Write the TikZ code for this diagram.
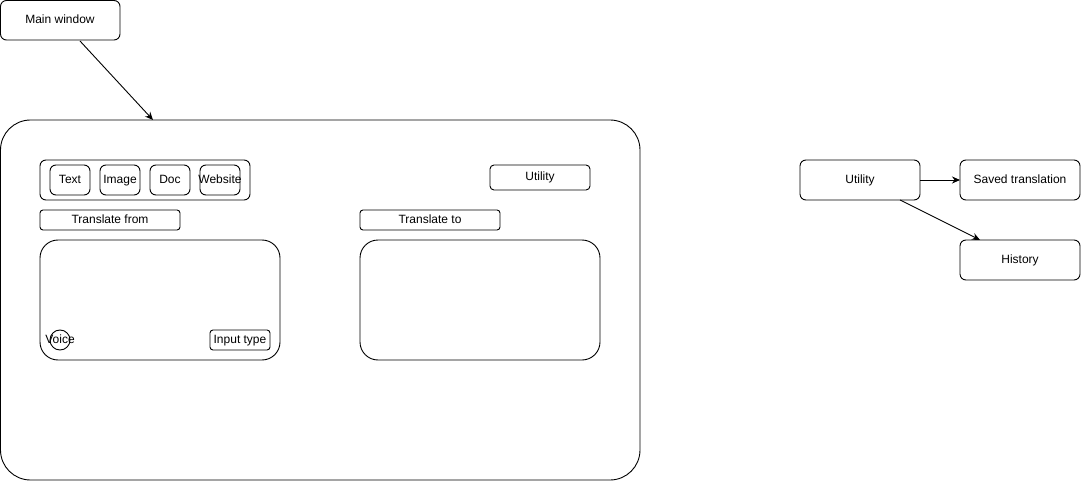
\documentclass[tikz,border=0pt]{standalone}
\usepackage{fontspec}
\setmainfont{Liberation Sans}
\usetikzlibrary{arrows.meta}
\begin{document}
\begin{tikzpicture}[x=1pt,y=-1pt,
  box/.style={draw, line width=0.9pt, rounded corners=#1},
  box/.default=6pt,
  lbl/.style={font=\fontsize{12}{14}\selectfont, inner sep=0pt, text height=8.6pt, text depth=2.4pt},
  arr/.style={line width=0.9pt, -{Stealth[length=8pt,width=7pt]}}]
\useasboundingbox (0,0) rectangle (1081,481);
% Main window label
\draw[box] (0.5,0.5) rectangle (120,40);
\node[lbl] (mw) at (60,20) {Main window};
\coordinate (mwb) at (80,41);
% big window
\draw[box=30pt] (0.5,120) rectangle (640,480);
\coordinate (wint) at (153,120);
\draw[arr] (mwb) -- (wint);
% tab group
\draw[box] (40,160) rectangle (250,200);
\draw[box] (50,165) rectangle (90,195);   \node[lbl] (t1) at (70,180) {Text};
\draw[box] (100,165) rectangle (140,195); \node[lbl] (t2) at (120,180) {Image};
\draw[box] (150,165) rectangle (190,195); \node[lbl] (t3) at (170,180) {Doc};
\draw[box] (200,165) rectangle (240,195); \node[lbl] (t4) at (220,180) {Website};
% utility in window
\draw[box=4pt] (490,165) rectangle (590,190); \node[lbl] (u1) at (540,177.5) {Utility};
% translate labels
\draw[box=3pt] (40,210) rectangle (180,230); \node[lbl] (tf) at (110,220) {Translate from};
\draw[box=3pt] (360,210) rectangle (500,230); \node[lbl] (tt) at (430,220) {Translate to};
% text boxes
\draw[box=18pt] (40,240) rectangle (280,360);
\draw[box=18pt] (360,240) rectangle (600,360);
\draw[line width=0.9pt] (60,340) circle (10);
\node[lbl] (voice) at (60,340) {Voice};
\draw[box=3pt] (210,330) rectangle (270,350); \node[lbl] (it) at (240,340) {Input type};
% right side
\draw[box] (800,160) rectangle (920,200); \node[lbl] (ut) at (860,180) {Utility};
\draw[box] (960,160) rectangle (1080,200); \node[lbl] (sv) at (1020,180) {Saved translation};
\draw[box] (960,240) rectangle (1080,280); \node[lbl] (hi) at (1020,260) {History};
\coordinate (ur) at (920,180);
\coordinate (sl) at (960,180);
\coordinate (ub) at (900,200);
\coordinate (ht) at (980,240);
\draw[arr] (ur) -- (sl);
\draw[arr] (ub) -- (ht);
\end{tikzpicture}
\end{document}
